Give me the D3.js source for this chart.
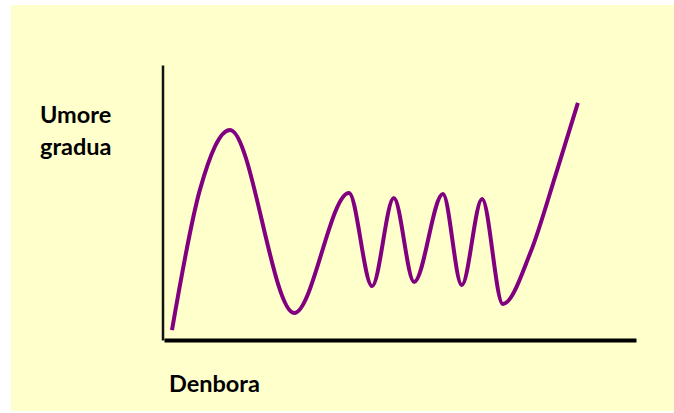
<!DOCTYPE html>
<html>
<head>
<meta charset="utf-8">
<script src="https://cdn.jsdelivr.net/npm/d3@7"></script>
<style>
  html, body { margin: 0; padding: 0; background: #ffffff; }
  svg { display: block; }
</style>
</head>
<body>
<svg id="chart" width="674" height="413"></svg>
<script>
// Time (Denbora) positions, 0-100
const timeValues = [1.9, 7.8, 14.2, 27.8, 39.4, 44.3, 48.9, 53.2, 59.3, 63.3, 67.6, 72.0, 77.8, 83.5, 87.9];
// Mood degree (Umore gradua), 0-100
const moodValues = [3.6, 54.5, 76.4, 9.8, 53.5, 19.6, 51.6, 21.1, 53.1, 20.0, 51.3, 13.1, 31.6, 61.8, 86.2];
const yLabelLines = ["Umore", "gradua"];
const xLabel = "Denbora";

const svg = d3.select("#chart");

svg.append("rect")
  .attr("x", 11).attr("y", 5)
  .attr("width", 663).attr("height", 406)
  .attr("fill", "#ffffcc");

const x = d3.scaleLinear().domain([0, 100]).range([163, 635]);
const y = d3.scaleLinear().domain([0, 100]).range([340, 65]);

// Y axis (no ticks)
const gy = svg.append("g")
  .attr("transform", "translate(162.5,0)")
  .call(d3.axisLeft(y).tickValues([]).tickSizeOuter(0));
gy.select(".domain").attr("stroke", "#111").attr("stroke-width", 2.5);

// X axis (no ticks)
const gx = svg.append("g")
  .attr("transform", "translate(1,340)")
  .call(d3.axisBottom(x).tickValues([]).tickSizeOuter(0));
gx.select(".domain").attr("stroke", "#000").attr("stroke-width", 4);

const data = timeValues.map((t, i) => ({ t, m: moodValues[i] }));

const line = d3.line()
  .x(d => x(d.t))
  .y(d => y(d.m))
  .curve(d3.curveMonotoneX);

svg.append("path")
  .datum(data)
  .attr("d", line)
  .attr("fill", "none")
  .attr("stroke", "#800080")
  .attr("stroke-width", 4)
  .attr("stroke-linecap", "butt")
  .attr("stroke-linejoin", "round");

const font = "Lato, 'Open Sans', sans-serif";
svg.append("g").selectAll("text")
  .data(yLabelLines)
  .join("text")
  .attr("x", 40)
  .attr("y", (d, i) => 123 + i * 32)
  .attr("font-family", font)
  .attr("font-weight", "bold")
  .attr("font-size", 23.5)
  .attr("fill", "#000")
  .text(d => d);

svg.append("text")
  .attr("x", 169)
  .attr("y", 392)
  .attr("font-family", font)
  .attr("font-weight", "bold")
  .attr("font-size", 23.5)
  .attr("fill", "#000")
  .text(xLabel);
</script>
</body>
</html>
